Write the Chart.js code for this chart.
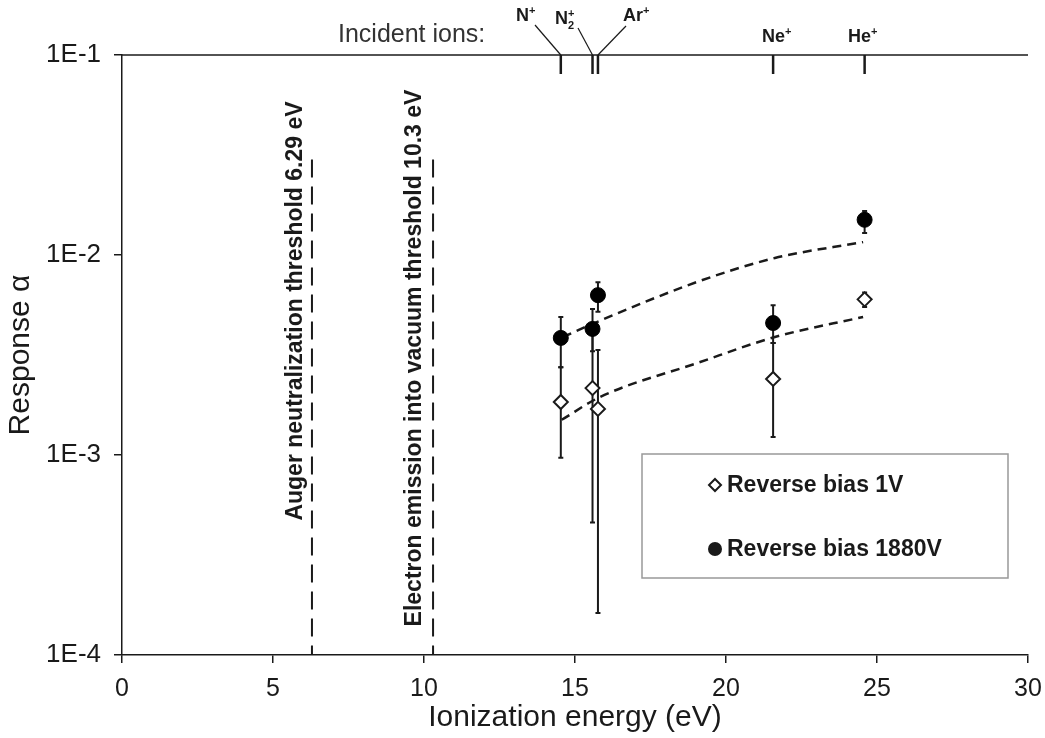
<!DOCTYPE html>
<html>
<head>
<meta charset="utf-8">
<script src="https://cdn.jsdelivr.net/npm/chart.js@4.4.1/dist/chart.umd.min.js"></script>
<style>
  html, body { margin: 0; padding: 0; background: #fff; }
  canvas { display: block; }
</style>
</head>
<body>
<canvas id="chart" width="1045" height="738"></canvas>
<script>
// Ions and their ionization energies (eV)
const ionEnergy = [14.53, 15.58, 15.76, 21.56, 24.59];
const ionBase = ['N', 'N', 'Ar', 'Ne', 'He'];
const ionSub = ['', '2', '', '', ''];

// Reverse bias 1V (open diamonds)
const rev1V = [1.84e-3, 2.16e-3, 1.70e-3, 2.40e-3, 6.0e-3];
const rev1VHi = [2.75e-3, 4.0e-3, 3.35e-3, 3.63e-3, 6.5e-3];
const rev1VLo = [9.7e-4, 4.6e-4, 1.62e-4, 1.23e-3, 5.5e-3];

// Reverse bias 1880V (filled circles)
const rev1880V = [3.85e-3, 4.27e-3, 6.3e-3, 4.57e-3, 1.5e-2];
const rev1880VHi = [4.9e-3, 5.37e-3, 7.3e-3, 5.6e-3, 1.66e-2];
const rev1880VLo = [2.75e-3, 3.3e-3, 5.2e-3, 3.63e-3, 1.29e-2];

// dashed trend curves
const fit1VX = [14.56, 15.83, 19.04, 21.62, 24.54];
const fit1VY = [1.50e-3, 1.95e-3, 2.88e-3, 3.89e-3, 4.9e-3];
const fit1880VX = [14.6, 15.72, 19.04, 21.62, 24.54];
const fit1880VY = [3.89e-3, 4.62e-3, 7.33e-3, 9.66e-3, 1.16e-2];

// threshold lines
const thresholdE = [6.29, 10.3];
const thresholdTop = 3e-2;
const thresholdText = ['Auger neutralization threshold 6.29 eV', 'Electron emission into vacuum threshold 10.3 eV'];

// axes
const xTicks = [0, 5, 10, 15, 20, 25, 30];
const yTickValues = [1e-4, 1e-3, 1e-2, 1e-1];
const yTickLabels = ['1E-4', '1E-3', '1E-2', '1E-1'];

const INK = '#1a1a1a';
const SANS = '"Liberation Sans", Arial, sans-serif';

const pts = (xs, ys) => xs.map((x, i) => ({ x, y: ys[i] }));

// error bars, drawn under the markers
const errorBars = {
  id: 'errorBars',
  beforeDatasetsDraw(chart) {
    const { ctx, scales: { x, y } } = chart;
    const sets = [[rev1VHi, rev1VLo], [rev1880VHi, rev1880VLo]];
    ctx.save();
    ctx.strokeStyle = INK;
    ctx.lineWidth = 2;
    sets.forEach(([hi, lo]) => {
      ionEnergy.forEach((e, i) => {
        const px = x.getPixelForValue(e);
        const top = y.getPixelForValue(hi[i]);
        const bot = y.getPixelForValue(lo[i]);
        ctx.beginPath();
        ctx.moveTo(px, top); ctx.lineTo(px, bot);
        ctx.moveTo(px - 2.5, top); ctx.lineTo(px + 2.5, top);
        ctx.moveTo(px - 2.5, bot); ctx.lineTo(px + 2.5, bot);
        ctx.stroke();
      });
    });
    ctx.restore();
  }
};

// top frame, incident ion markers, annotations, legend
const decorations = {
  id: 'decorations',
  afterDraw(chart) {
    const { ctx, chartArea: a, scales: { x, y } } = chart;
    ctx.save();
    ctx.strokeStyle = INK;
    ctx.fillStyle = INK;

    // top frame line
    ctx.lineWidth = 1.5;
    ctx.beginPath();
    ctx.moveTo(a.left, a.top); ctx.lineTo(a.right, a.top);
    ctx.stroke();

    // ion ticks
    ctx.lineWidth = 2.5;
    ionEnergy.forEach(e => {
      const px = x.getPixelForValue(e);
      ctx.beginPath();
      ctx.moveTo(px, a.top); ctx.lineTo(px, a.top + 19);
      ctx.stroke();
    });

    // leader lines for the crowded ones
    ctx.lineWidth = 1.2;
    const leaders = [[535, 25, 0], [578, 28, 1], [626, 26, 2]];
    leaders.forEach(([lx, ly, i]) => {
      ctx.beginPath();
      ctx.moveTo(lx, ly);
      ctx.lineTo(x.getPixelForValue(ionEnergy[i]), a.top);
      ctx.stroke();
    });

    // ion labels
    const labelPos = [[516, 16], [555, 19], [623, 16], [762, 37], [848, 37]];
    ctx.textBaseline = 'middle';
    ctx.textAlign = 'left';
    ionBase.forEach((name, i) => {
      let [lx, ly] = labelPos[i];
      ctx.font = 'bold 18px ' + SANS;
      ctx.fillText(name, lx, ly);
      lx += ctx.measureText(name).width;
      ctx.font = 'bold 11px ' + SANS;
      if (ionSub[i]) ctx.fillText(ionSub[i], lx, ly + 7);
      ctx.fillText('+', lx, ly - 5);
    });

    ctx.font = '25px ' + SANS;
    ctx.fillStyle = '#333';
    ctx.fillText('Incident ions:', 338, 35);

    // threshold annotations, rotated
    ctx.fillStyle = INK;
    ctx.font = 'bold 23px ' + SANS;
    ctx.textAlign = 'center';
    const annCenter = [[296, 311], [415, 358]];
    thresholdText.forEach((t, i) => {
      ctx.save();
      ctx.translate(annCenter[i][0], annCenter[i][1]);
      ctx.rotate(-Math.PI / 2);
      ctx.fillText(t, 0, 0);
      ctx.restore();
    });

    // legend box
    ctx.strokeStyle = '#999';
    ctx.lineWidth = 1.5;
    ctx.strokeRect(642, 454, 366, 124);
    ctx.strokeStyle = INK;
    ctx.lineWidth = 2;
    ctx.beginPath();
    ctx.moveTo(715, 479); ctx.lineTo(721, 485); ctx.lineTo(715, 491); ctx.lineTo(709, 485);
    ctx.closePath();
    ctx.stroke();
    ctx.beginPath();
    ctx.arc(715, 549, 7, 0, Math.PI * 2);
    ctx.fill();
    ctx.font = 'bold 23px ' + SANS;
    ctx.textAlign = 'left';
    ctx.fillText('Reverse bias 1V', 727, 486);
    ctx.fillText('Reverse bias 1880V', 727, 550);

    ctx.restore();
  }
};

const dashed = {
  showLine: true, pointRadius: 0, borderColor: INK, borderWidth: 2.5,
  borderDash: [9, 6], cubicInterpolationMode: 'monotone', fill: false
};
const threshold = {
  showLine: true, pointRadius: 0, borderColor: INK, borderWidth: 2,
  borderDash: [18, 9], fill: false
};

new Chart(document.getElementById('chart'), {
  type: 'scatter',
  data: {
    datasets: [
      {
        label: 'Reverse bias 1V', data: pts(ionEnergy, rev1V),
        pointStyle: 'rectRot', pointRadius: 7, borderWidth: 2,
        borderColor: INK, backgroundColor: '#fff'
      },
      {
        label: 'Reverse bias 1880V', data: pts(ionEnergy, rev1880V),
        pointStyle: 'circle', pointRadius: 7.5, borderWidth: 1,
        borderColor: '#000', backgroundColor: '#000'
      },
      Object.assign({ label: 'fit 1V', data: pts(fit1VX, fit1VY) }, dashed),
      Object.assign({ label: 'fit 1880V', data: pts(fit1880VX, fit1880VY) }, dashed),
      ...thresholdE.map(e => Object.assign({
        label: 'threshold ' + e,
        data: [{ x: e, y: thresholdTop }, { x: e, y: 1e-4 }]
      }, threshold))
    ]
  },
  options: {
    responsive: false,
    animation: false,
    layout: { padding: { top: 55, right: 17, left: 0, bottom: 0 } },
    plugins: { legend: { display: false }, tooltip: { enabled: false } },
    scales: {
      x: {
        type: 'linear', min: 0, max: 30,
        afterBuildTicks(s) { s.ticks = xTicks.map(v => ({ value: v })); },
        afterFit(s) { s.height = 83; s.paddingRight = 0; s.paddingLeft = 0; },
        ticks: { color: INK, font: { family: SANS, size: 25 }, padding: 11 },
        grid: { drawOnChartArea: false, drawTicks: true, tickLength: 8, color: INK, lineWidth: 1.5 },
        border: { display: true, color: INK, width: 1.5 },
        title: {
          display: true, text: 'Ionization energy (eV)', color: INK,
          font: { family: SANS, size: 30 }, padding: { top: 0, bottom: 2 }
        }
      },
      y: {
        type: 'logarithmic', min: 1e-4, max: 1e-1,
        afterBuildTicks(s) { s.ticks = yTickValues.map(v => ({ value: v, major: true })); },
        afterFit(s) { s.width = 122; },
        ticks: {
          color: INK, font: { family: SANS, size: 26 }, padding: 13,
          callback: (v, i) => yTickLabels[i]
        },
        grid: { drawOnChartArea: false, drawTicks: true, tickLength: 8, color: INK, lineWidth: 1.5 },
        border: { display: true, color: INK, width: 1.5 },
        title: {
          display: true, text: 'Response α', color: INK,
          font: { family: SANS, size: 30 }, padding: { top: 3, bottom: 0 }
        }
      }
    }
  },
  plugins: [errorBars, decorations]
});
</script>
</body>
</html>
